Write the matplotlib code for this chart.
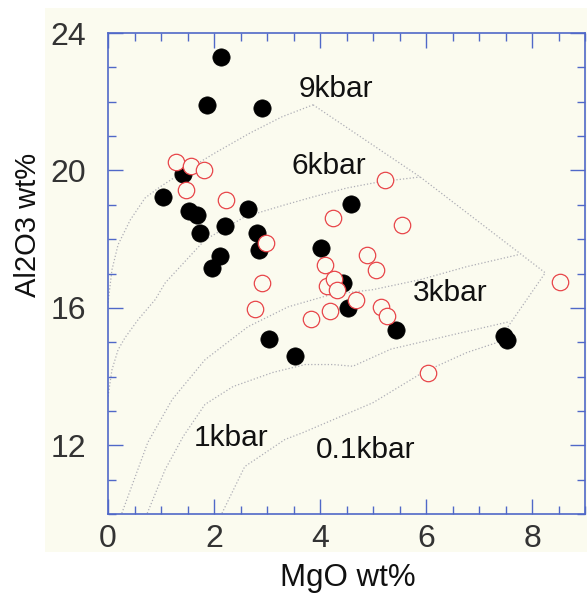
import numpy as np
import matplotlib
matplotlib.use("Agg")
import matplotlib.pyplot as plt
from matplotlib.ticker import MultipleLocator
from matplotlib.patches import Rectangle

plt.rcParams['font.family'] = ['Liberation Sans', 'DejaVu Sans']

# samples: filled black dots
black_mgo = [2.13, 1.87, 2.90, 1.41, 1.04, 1.53, 1.68, 2.64, 1.74, 2.21, 2.81, 2.85,
             2.11, 1.96, 4.02, 4.58, 4.44, 4.53, 5.43, 7.47, 7.53, 3.04, 3.53]
black_al = [23.29, 21.91, 21.83, 19.90, 19.24, 18.83, 18.71, 18.87, 18.19, 18.37, 18.18, 17.67,
            17.50, 17.17, 17.74, 19.01, 16.72, 16.00, 15.37, 15.19, 15.05, 15.10, 14.61]

# samples: open red circles
red_mgo = [1.28, 1.56, 1.82, 1.48, 2.23, 2.98, 2.90, 2.77, 4.25, 5.23, 5.54, 4.88,
           5.06, 4.09, 4.13, 4.27, 4.33, 4.68, 4.19, 3.83, 5.15, 5.27, 8.52, 6.03]
red_al = [20.26, 20.13, 20.02, 19.44, 19.15, 17.90, 16.72, 15.97, 18.63, 19.71, 18.40, 17.55,
          17.11, 17.24, 16.65, 16.85, 16.51, 16.24, 15.90, 15.69, 16.03, 15.75, 16.74, 14.09]

# isobars (traced)
iso_9_x = [0.0, 0.075, 0.19, 0.42, 0.70, 0.98, 1.30, 2.02, 2.68, 3.28, 3.87]
iso_9_y = [16.15, 17.11, 17.84, 18.56, 19.20, 19.52, 19.84, 20.51, 21.09, 21.56, 21.91]
iso_6_x = [0.0, 0.075, 0.19, 0.32, 0.57, 0.89, 1.08, 1.83, 2.58, 3.34, 3.87, 4.51, 5.13, 5.89]
iso_6_y = [13.42, 14.20, 14.78, 15.13, 15.66, 16.24, 16.73, 17.98, 18.65, 19.0, 19.23, 19.49, 19.67, 19.81]
iso_3_x = [0.26, 0.75, 1.21, 1.83, 2.64, 3.40, 4.19, 5.0, 5.89, 6.77, 7.75]
iso_3_y = [10.02, 12.08, 13.33, 14.49, 15.45, 16.03, 16.38, 16.53, 16.82, 17.20, 17.55]
iso_1_x = [0.74, 1.08, 1.42, 1.83, 2.36, 3.11, 3.72, 4.25, 4.62, 5.34, 6.51, 7.58]
iso_1_y = [10.02, 11.30, 12.26, 13.19, 13.71, 14.12, 14.35, 14.35, 14.30, 14.80, 15.22, 15.60]
iso_01_x = [2.15, 2.58, 3.34, 3.68, 5.0, 5.94, 6.77, 7.34]
iso_01_y = [10.02, 11.38, 12.17, 12.37, 13.24, 14.12, 14.70, 14.99]
edge_x = [3.87, 5.89, 8.25, 7.34]
edge_y = [21.91, 19.81, 17.02, 14.99]

labels = ['9kbar', '6kbar', '3kbar', '1kbar', '0.1kbar']
label_x = [4.30, 4.17, 6.45, 2.32, 4.87]
label_y = [22.37, 20.12, 16.44, 12.20, 11.85]

cream = '#fbfbef'
blue = '#5068c8'

fig = plt.figure(figsize=(5.87, 5.96), dpi=100)
fig.patches.append(Rectangle((0.077, 0.074), 0.923, 0.913, transform=fig.transFigure,
                             facecolor=cream, edgecolor='none', zorder=-10))
ax = fig.add_axes([0.184, 0.1376, 0.8126, 0.807])
ax.set_facecolor(cream)

for xs, ys in [(iso_9_x, iso_9_y), (iso_6_x, iso_6_y), (iso_3_x, iso_3_y),
               (iso_1_x, iso_1_y), (iso_01_x, iso_01_y), (edge_x, edge_y)]:
    ax.plot(xs, ys, ls=':', color='#aeaeb6', lw=0.9, zorder=1)

ax.scatter(black_mgo, black_al, s=155, color='black', edgecolor='black', lw=0.5, zorder=2)
ax.scatter(red_mgo, red_al, s=140, facecolor=cream, edgecolor='#e8464a', lw=0.9, zorder=3)

for t, x, y in zip(labels, label_x, label_y):
    ax.text(x, y, t, fontsize=21.5, ha='center', va='center', color='#111111', zorder=4)

ax.set_xlim(0, 9)
ax.set_ylim(10, 24)
ax.xaxis.set_major_locator(MultipleLocator(2))
ax.xaxis.set_minor_locator(MultipleLocator(0.5))
ax.yaxis.set_major_locator(MultipleLocator(4))
ax.yaxis.set_minor_locator(MultipleLocator(1))
ax.tick_params(which='both', direction='in', top=True, right=True, color=blue, width=1.0,
               labelsize=23, labelcolor='#333333')
ax.tick_params(which='major', length=11)
ax.tick_params(which='minor', length=5.5)
ax.tick_params(axis='y', which='major', pad=16)
ax.tick_params(axis='x', which='major', pad=7)
ax.set_yticks([12, 16, 20, 24])
for sp in ax.spines.values():
    sp.set_color(blue)
    sp.set_linewidth(1.2)

fig.text(0.592, 0.030, 'MgO wt%', fontsize=22.5, ha='center', va='center', color='#111111')
fig.text(0.048, 0.622, 'Al2O3 wt%', fontsize=21, rotation=90, ha='center', va='center',
         color='#111111')

plt.savefig('out.png', dpi=100)
